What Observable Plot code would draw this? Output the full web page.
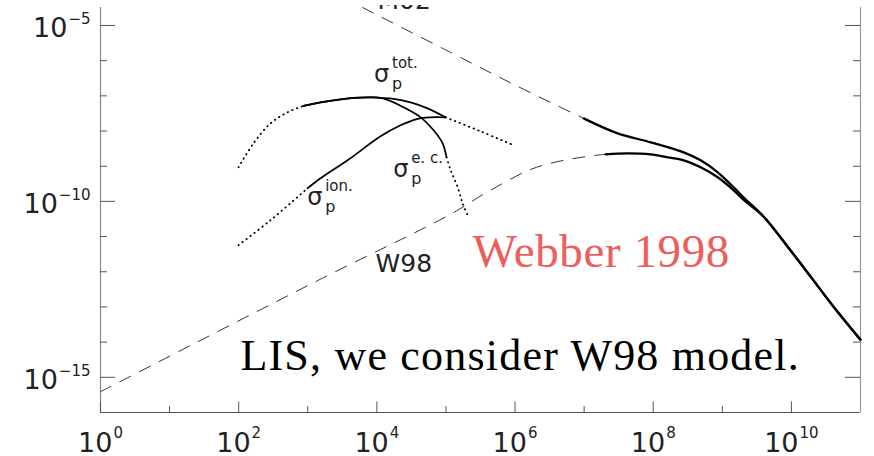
<!DOCTYPE html>
<html>
<head>
<meta charset="utf-8">
<script src="https://cdn.jsdelivr.net/npm/d3@7"></script>
<script src="https://cdn.jsdelivr.net/npm/@observablehq/plot@0.6"></script>
<style>
  html, body { margin: 0; padding: 0; background: #fff; }
  #chart { width: 874px; height: 456px; overflow: hidden; }
  /* the figure is trimmed just above its frame */
  #chart svg { clip-path: inset(5px 0 0 0); }
</style>
</head>
<body>
<div id="chart"></div>
<script>
// Proton local interstellar spectra (M02, W98) together with the proton
// cross sections (electron capture, ionisation, total) on log–log axes.
// Each point is [energy, value].

// M02 spectrum: power-law extension (dashed) and computed part (solid)
const m02Extension = [[6.21e3, 3.24e-5], [1.17e5, 1.71e-6], [1.09e6, 1.86e-7], [9.84e6, 2.29e-8]];
const m02 = [
  [9.84e6, 2.29e-8], [3.05e7, 8.59e-9], [9.18e7, 4.78e-9], [2.76e8, 2.48e-9],
  [4.86e8, 1.47e-9], [8.57e8, 6.71e-10], [1.46e9, 2.52e-10], [2.04e9, 1.28e-10],
  [3.97e9, 3.67e-11], [8.83e9, 5.16e-12], [1.91e10, 7.15e-13], [4.10e10, 1.00e-13],
  [1e11, 1.17e-14]
];

// W98 spectrum: low-energy extension (dashed) and computed part (solid)
const w98Extension = [
  [1, 3.90e-16], [1.53e3, 6.17e-13], [1.17e5, 4.32e-11], [3.51e5, 1.60e-10],
  [1.57e6, 7.66e-10], [3.27e6, 1.21e-9], [6.82e6, 1.63e-9], [1.47e7, 2.04e-9],
  [2.05e7, 2.18e-9]
];
const w98 = [
  [2.05e7, 2.18e-9], [4.27e7, 2.33e-9], [9.18e7, 2.18e-9], [1.62e8, 1.79e-9],
  [2.76e8, 1.47e-9], [4.86e8, 9.31e-10], [8.57e8, 4.84e-10], [1.46e9, 2.07e-10],
  [2.04e9, 1.10e-10], [3.97e9, 3.67e-11], [8.83e9, 5.16e-12], [1.91e10, 7.15e-13],
  [4.10e10, 1.00e-13], [1e11, 1.17e-14]
];

// Total cross section (low-energy part coincides with electron capture)
const sigmaTotLow = [[99.5, 9.31e-10], [164, 4.48e-9], [289, 1.65e-8], [509, 3.40e-8], [869, 5.19e-8]];
const sigmaTot = [
  [869, 5.19e-8], [1.53e3, 6.52e-8], [4.60e3, 8.75e-8], [8.67e3, 9.04e-8],
  [1.13e4, 8.75e-8], [1.75e4, 8.20e-8], [3.08e4, 6.52e-8], [5.42e4, 4.41e-8],
  [9.89e4, 2.45e-8]
];
const sigmaTotHigh = [[9.89e4, 2.45e-8], [3.18e5, 9.79e-9], [9.53e5, 3.93e-9]];

// Electron-capture cross section
const sigmaEc = [
  [869, 5.19e-8], [1.53e3, 6.52e-8], [4.60e3, 8.75e-8], [8.67e3, 9.04e-8],
  [1.13e4, 8.75e-8], [1.75e4, 6.52e-8], [2.44e4, 4.70e-8], [4.30e4, 2.45e-8],
  [6.62e4, 1.05e-8], [8.95e4, 4.48e-9], [1.02e5, 1.79e-9]
];
const sigmaEcHigh = [[1.02e5, 1.79e-9], [1.17e5, 7.66e-10], [1.48e5, 2.52e-10], [1.74e5, 8.87e-11], [2.06e5, 4.05e-11]];

// Ionisation cross section
const sigmaIonLow = [[99.5, 5.69e-12], [289, 2.92e-11], [993, 2.36e-10]];
const sigmaIon = [
  [993, 2.36e-10], [1.53e3, 4.54e-10], [3.77e3, 1.47e-9], [1.13e4, 7.06e-9],
  [2.20e4, 1.45e-8], [3.89e4, 2.22e-8], [6.00e4, 2.45e-8], [9.89e4, 2.45e-8]
];

// Axis ticks and their labels ("^" marks the exponent)
const xMajor = [1e0, 1e2, 1e4, 1e6, 1e8, 1e10];
const xMinor = [1e1, 1e3, 1e5, 1e7, 1e9];
const xTickLabels = ["10^0", "10^2", "10^4", "10^6", "10^8", "10^10"];
const yMajor = [1e-15, 1e-10, 1e-5];
const yMinor = [1e-14, 1e-13, 1e-12, 1e-11, 1e-9, 1e-8, 1e-7, 1e-6];
const yTickLabels = ["10^\u221215", "10^\u221210", "10^\u22125"];

// Curve labels
const sigmaNames = ["tot.", "ion.", "e. c."];
const sigmaAt = [[9.1e3, 2.41e-7], [980, 7.78e-11], [1.72e4, 4.85e-10]];
const modelNames = ["W98", "M02"];
const modelAt = [[9.58e3, 9.75e-13], [1.02e4, 2.94e-5]];
const notes = ["Webber 1998", "LIS, we consider W98 model."];
const notesAt = [[2.43e5, 1.35e-12], [106, 1.61e-15]];

const W = 874, H = 456;
const mL = 100, mR = 14, mT = 7, mB = 44;
const fw = W - mL - mR, fh = H - mT - mB;

const axisColor = "#555";
const sans = "DejaVu Sans, sans-serif";
const serif = "Liberation Serif, Times New Roman, serif";

const px = d => d[0], py = d => d[1];
const smooth = "catmull-rom";
const solid = (data, w) => Plot.line(data, {x: px, y: py, stroke: "#000", strokeWidth: w, curve: smooth});
const dashed = data => Plot.line(data, {x: px, y: py, stroke: "#333", strokeWidth: 1, strokeDasharray: "12,10", curve: smooth});
const dotted = data => Plot.line(data, {x: px, y: py, stroke: "#000", strokeWidth: 1.8, strokeDasharray: "0.5,4.5",
  strokeLinecap: "round", curve: smooth});

const svg = Plot.plot({
  width: W, height: H,
  marginLeft: mL, marginRight: mR, marginTop: mT, marginBottom: mB,
  x: {type: "log", domain: [1, 1e11], axis: null},
  y: {type: "log", domain: [1e-16, 3.24e-5], axis: null},
  marks: [
    // frame lines
    Plot.ruleX([1], {stroke: "#888", strokeWidth: 1.2}),
    Plot.ruleX([1e11], {stroke: "#999", strokeWidth: 1.2}),
    Plot.ruleY([1e-16], {stroke: axisColor, strokeWidth: 1}),
    // inward ticks
    Plot.tickY(yMajor, {y: d => d, stroke: axisColor, insetRight: fw - 15}),
    Plot.tickY(yMinor, {y: d => d, stroke: axisColor, insetRight: fw - 7}),
    Plot.tickY(yMajor, {y: d => d, stroke: axisColor, insetLeft: fw - 15}),
    Plot.tickY(yMinor, {y: d => d, stroke: axisColor, insetLeft: fw - 7}),
    Plot.tickX(xMajor, {x: d => d, stroke: axisColor, insetTop: fh - 10.5}),
    Plot.tickX(xMinor, {x: d => d, stroke: axisColor, insetTop: fh - 6}),
    // tick labels
    Plot.text(xTickLabels, {x: xMajor, text: xTickLabels, frameAnchor: "bottom", lineAnchor: "bottom",
      dy: 39, fontSize: 27, fontFamily: sans, fill: "#222"}),
    Plot.text(yTickLabels, {y: yMajor, text: yTickLabels, frameAnchor: "left", textAnchor: "end",
      lineAnchor: "bottom", dx: -10, dy: 12, fontSize: 27, fontFamily: sans, fill: "#222"}),
    // spectra
    dashed(m02Extension),
    solid(m02, 2.3),
    dashed(w98Extension),
    solid(w98, 2.3),
    // cross sections
    dotted(sigmaTotLow),
    solid(sigmaTot, 1.7),
    dotted(sigmaTotHigh),
    solid(sigmaEc, 1.7),
    dotted(sigmaEcHigh),
    dotted(sigmaIonLow),
    solid(sigmaIon, 1.7),
    // σ labels with superscript name and subscript p
    Plot.text(sigmaAt, {x: px, y: py, text: () => "\u03c3", textAnchor: "start", lineAnchor: "bottom",
      fontSize: 24, fontFamily: sans, fill: "#222"}),
    Plot.text(sigmaAt, {x: px, y: py, text: (d, i) => sigmaNames[i], textAnchor: "start", lineAnchor: "bottom",
      dx: 18, dy: -14, fontSize: 15, fontFamily: sans, fill: "#222"}),
    Plot.text(sigmaAt, {x: px, y: py, text: () => "p", textAnchor: "start", lineAnchor: "bottom",
      dx: 18, dy: 7, fontSize: 16, fontFamily: sans, fill: "#222"}),
    // model labels
    Plot.text(modelAt, {x: px, y: py, text: (d, i) => modelNames[i], textAnchor: "start", lineAnchor: "bottom",
      fontSize: 25, fontFamily: sans, fill: "#222"}),
    // notes
    Plot.text([notesAt[0]], {x: px, y: py, text: () => notes[0], textAnchor: "start", lineAnchor: "bottom",
      fontSize: 47, fontFamily: serif, fill: "#ec5d5b"}),
    Plot.text([notesAt[1]], {x: px, y: py, text: () => notes[1], textAnchor: "start", lineAnchor: "bottom",
      fontSize: 44, fontFamily: serif, fill: "#000"})
  ]
});

// Turn "base^exp" labels into a base with a raised exponent
svg.querySelectorAll("text").forEach(t => {
  const s = t.textContent;
  if (s.includes("^")) {
    const [base, exp] = s.split("^");
    t.textContent = base;
    const sup = document.createElementNS("http://www.w3.org/2000/svg", "tspan");
    sup.setAttribute("font-size", "15");
    sup.setAttribute("dy", "-13.5");
    sup.setAttribute("dx", "1");
    sup.textContent = exp;
    t.appendChild(sup);
  }
  if (s === notes[0]) t.style.letterSpacing = "0.6px";
  if (s === notes[1]) t.style.letterSpacing = "1.2px";
});

document.getElementById("chart").appendChild(svg);
</script>
</body>
</html>
